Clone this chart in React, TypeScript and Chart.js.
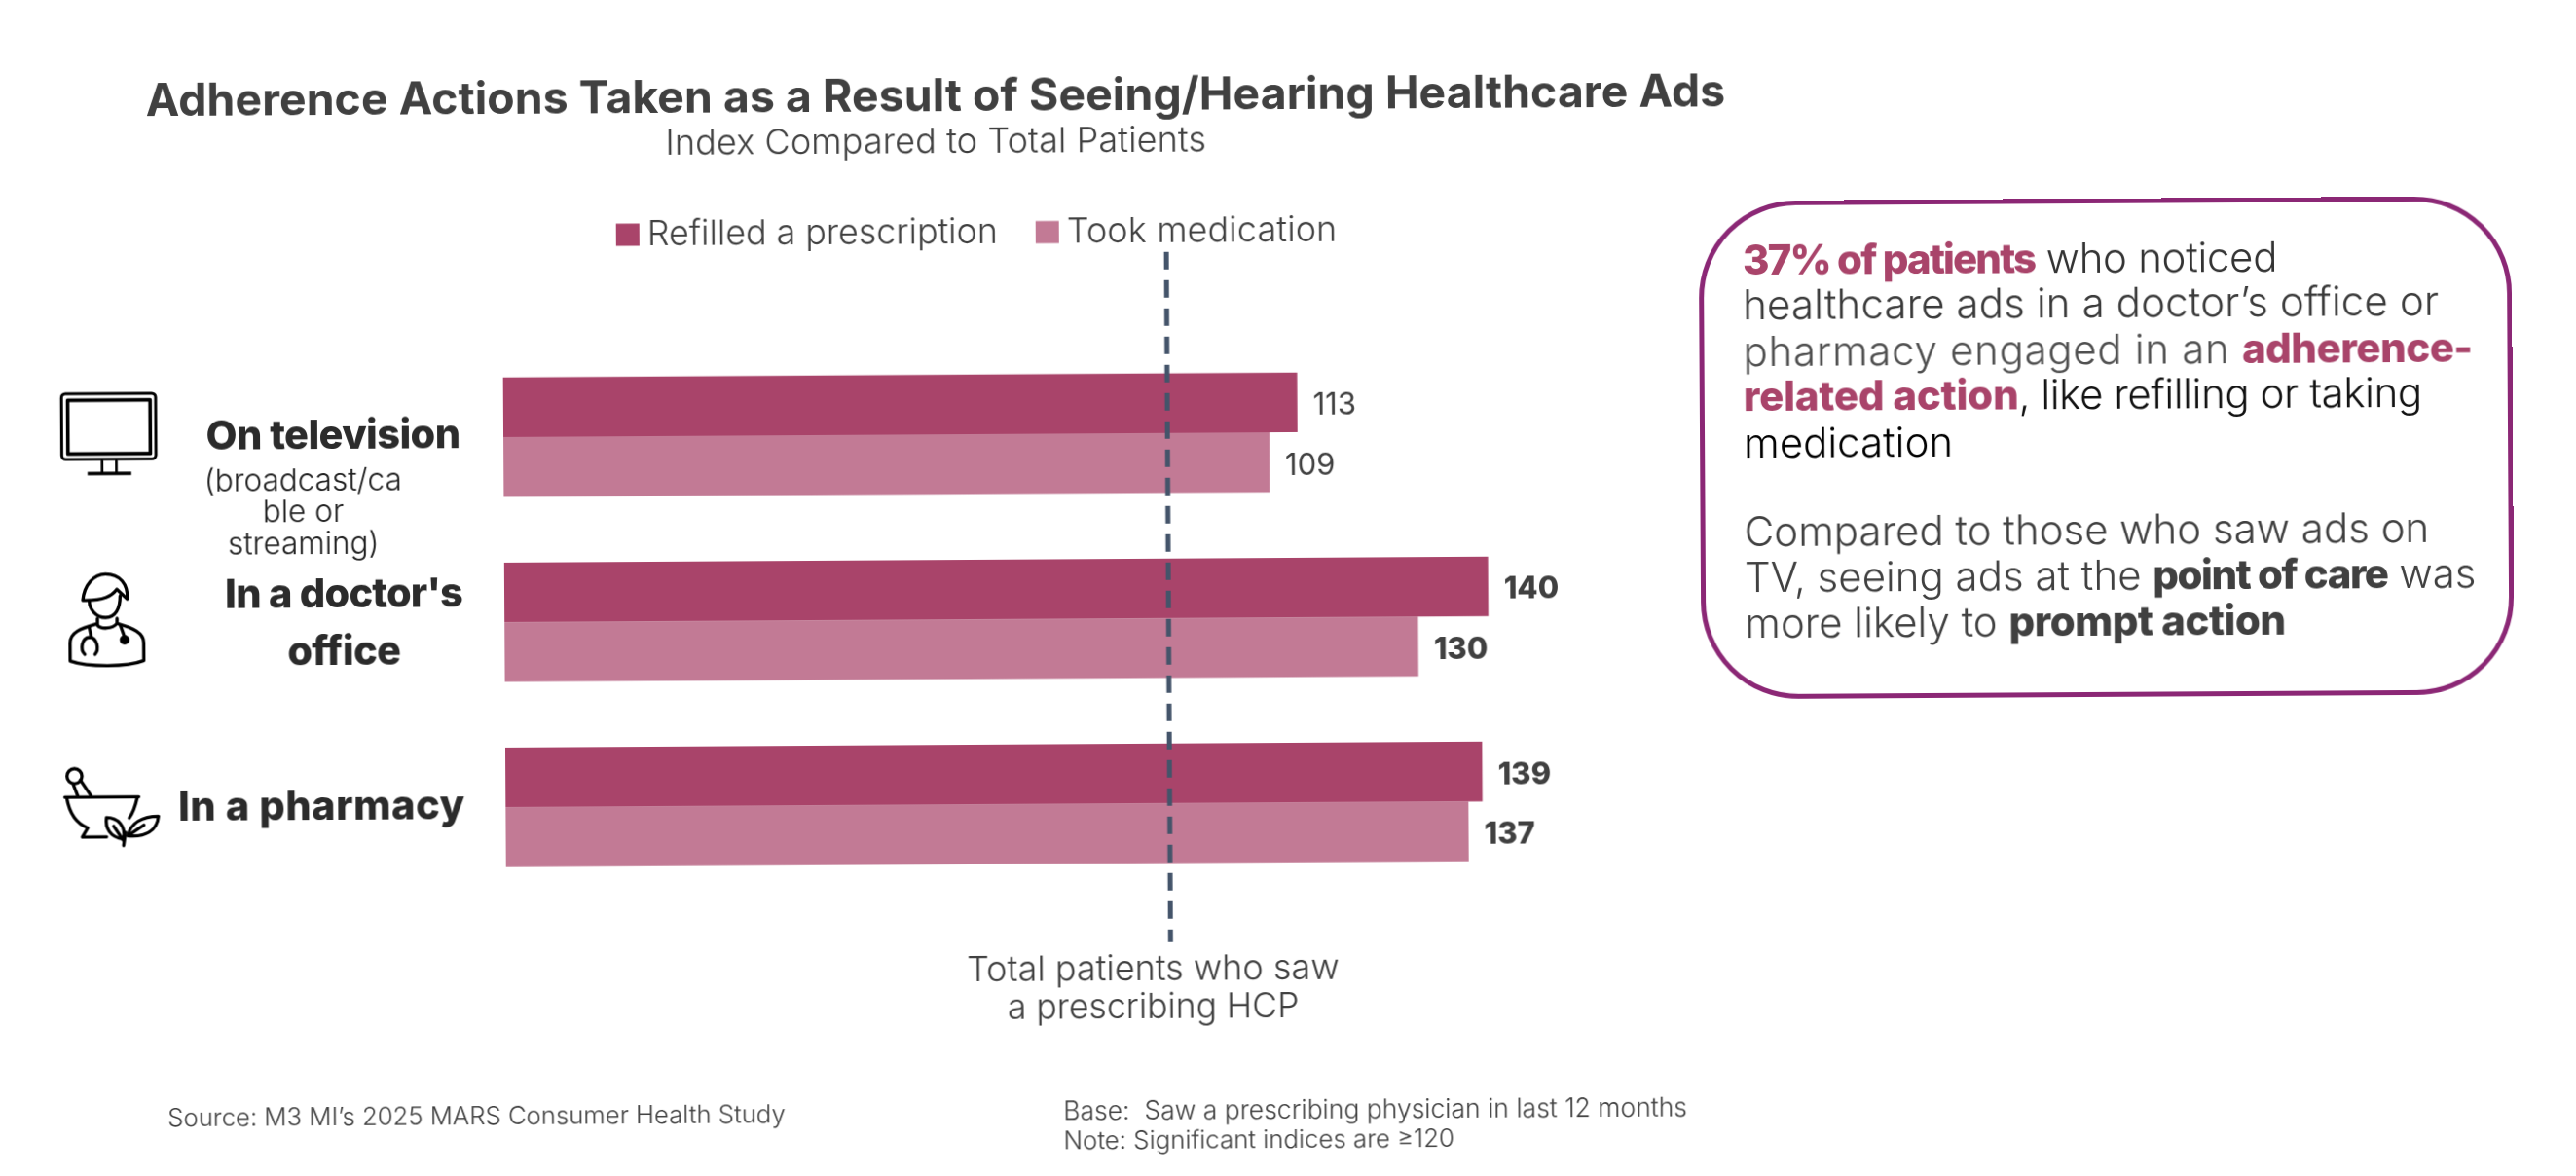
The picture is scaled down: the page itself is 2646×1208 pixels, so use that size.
import React, { useEffect, useRef } from "react";
import { Chart, registerables } from "chart.js";

Chart.register(...registerables);

const W = 2646;
const H = 1208;
const FONT = "Inter, 'Open Sans', sans-serif";

// ---- data ----
const categories = ["On television", "In a doctor's office", "In a pharmacy"];
const seriesNames = ["Refilled a prescription", "Took medication"];
const refilled = [113, 140, 139];
const tookMedication = [109, 130, 137];
const referenceLineValue = 94.5;

// ---- texts ----
const titleText = "Adherence Actions Taken as a Result of Seeing/Hearing Healthcare Ads";
const subtitleText = "Index Compared to Total Patients";
const referenceText = ["Total patients who saw", "a prescribing HCP"];
const sourceText = "Source: M3 MI\u2019s 2025 MARS Consumer Health Study";
const baseText = "Base:  Saw a prescribing physician in last 12 months";
const noteText = "Note: Significant indices are \u2265120";

// ---- styles ----
const DARK = "#A9446A";
const LIGHT = "#C27A95";
const INK = "#404040";
const catFont = `800 41.5px ${FONT}`;
const subFont = `300 31.5px ${FONT}`;
const categoryLabelLayout = [
  [
    { text: "On television", cx: 343, dy: -2, font: catFont, ls: "-0.6px", color: "#2b2b2b" },
    { text: "(broadcast/ca", cx: 312, dy: 44, font: subFont, ls: "0px", color: "#222" },
    { text: "ble or", cx: 312, dy: 76.5, font: subFont, ls: "0px", color: "#222" },
    { text: "streaming)", cx: 312, dy: 109, font: subFont, ls: "0px", color: "#222" },
  ],
  [
    { text: "In a doctor's", cx: 353, dy: -29, font: catFont, ls: "-0.8px", color: "#2b2b2b" },
    { text: "office", cx: 353, dy: 30, font: catFont, ls: "-0.6px", color: "#2b2b2b" },
  ],
  [{ text: "In a pharmacy", cx: 329, dy: -0.5, font: catFont, ls: "0.5px", color: "#2b2b2b" }],
];

const decorPlugin = {
  id: "decor",
  afterDatasetsDraw(chart: any) {
    const { ctx, scales } = chart;
    const x = scales.x;
    const y = scales.y;
    ctx.save();

    // reference line
    const rx = x.getPixelForValue(referenceLineValue);
    ctx.strokeStyle = "#44546A";
    ctx.lineWidth = 5;
    ctx.setLineDash([18, 11]);
    ctx.beginPath();
    ctx.moveTo(rx, 258);
    ctx.lineTo(rx, 967);
    ctx.stroke();
    ctx.setLineDash([]);

    // value labels
    ctx.textBaseline = "middle";
    ctx.textAlign = "left";
    chart.data.datasets.forEach((ds: any, di: number) => {
      const meta = chart.getDatasetMeta(di);
      meta.data.forEach((bar: any, i: number) => {
        ctx.font = i === 0 ? `400 31px ${FONT}` : `800 31px ${FONT}`;
        ctx.fillStyle = INK;
        ctx.fillText(String(ds.data[i]), bar.x + 16, bar.y + 3.5);
      });
    });

    // category labels
    ctx.textAlign = "center";
    categoryLabelLayout.forEach((lines, i) => {
      const cy = y.getPixelForValue(i);
      lines.forEach((l) => {
        ctx.font = l.font;
        ctx.letterSpacing = l.ls;
        ctx.fillStyle = l.color;
        ctx.fillText(l.text, l.cx, cy + l.dy);
      });
    });
    ctx.letterSpacing = "0px";

    // legend
    const swatchX = [635, 1066];
    ctx.textAlign = "left";
    ctx.font = `300 35.8px ${FONT}`;
    chart.data.datasets.forEach((ds: any, di: number) => {
      ctx.fillStyle = ds.backgroundColor;
      ctx.fillRect(swatchX[di], 225.5, 24, 23);
      ctx.fillStyle = INK;
      ctx.letterSpacing = di === 1 ? "0.2px" : "0px";
      ctx.fillText(ds.label, swatchX[di] + 32, 237);
    });
    ctx.letterSpacing = "0px";
    ctx.restore();
  },
};

function Txt(props: { x: number; y: number; align?: string; style?: any; children: any }) {
  const { x, y, align, style, children } = props;
  return (
    <div
      style={{
        position: "absolute",
        left: x,
        top: y,
        lineHeight: "0px",
        whiteSpace: "pre",
        fontFamily: FONT,
        transform: align === "center" ? "translateX(-50%)" : undefined,
        color: INK,
        ...style,
      }}
    >
      {children}
    </div>
  );
}

const B = (props: { c?: string; ls?: string; children: any }) => (
  <span style={{ fontWeight: 800, color: props.c, letterSpacing: props.ls || "-0.5px" }}>{props.children}</span>
);

function Icons() {
  const common = { fill: "none", stroke: "#000", strokeLinecap: "round" as const, strokeLinejoin: "round" as const };
  return (
    <>
      <svg style={{ position: "absolute", left: 40, top: 383, width: 140, height: 110 }} viewBox="0 0 420 330">
        <rect x="73" y="42" width="290" height="202" rx="12" {...common} strokeWidth="9" />
        <rect x="92" y="62" width="254" height="165" {...common} strokeWidth="11" />
        <path d="M197 250V285M241 250V285" {...common} strokeWidth="8" />
        <path d="M152 288H287" {...common} strokeWidth="11" strokeLinecap="butt" />
      </svg>
      <svg style={{ position: "absolute", left: 40, top: 563, width: 140, height: 120 }} viewBox="0 0 420 360">
        <g {...common} strokeWidth="10">
          <path d="M135 138C140 90 170 58 205 58C250 58 275 90 272 135L240 105C225 125 200 140 135 138Z" />
          <path d="M155 142C155 165 175 192 205 192C235 192 250 165 250 125" />
          <path d="M180 195V215C190 228 225 228 240 210V195" />
          <path d="M175 212C130 225 95 235 95 270V325C150 345 270 345 322 325V270C322 240 290 225 245 212" />
          <path d="M155 225L160 250M140 305C125 290 130 255 155 252C180 255 185 290 172 305M250 215L262 250" />
        </g>
        <circle cx="263" cy="261" r="15" fill="#000" />
      </svg>
      <svg style={{ position: "absolute", left: 38, top: 763, width: 140, height: 120 }} viewBox="0 0 420 360">
        <g {...common} strokeWidth="10">
          <path d="M82 145H310M88 148C95 190 115 225 152 240L135 268H210M305 148C300 170 295 190 280 210" />
          <circle cx="112" cy="80" r="23" />
          <path d="M108 105L122 142M130 92L162 140" />
          <path d="M262 275C220 270 205 240 210 208C245 208 270 235 262 275Z" />
          <path d="M232 235L262 280M262 295L268 255" />
          <path d="M275 265C285 225 320 205 370 205C365 250 330 270 275 265Z" />
          <path d="M280 262L325 232" />
        </g>
      </svg>
    </>
  );
}

export default function App() {
  const ref = useRef<HTMLCanvasElement | null>(null);

  useEffect(() => {
    if (!ref.current) return;
    const chart = new Chart(ref.current, {
      type: "bar",
      data: {
        labels: categories,
        datasets: [
          { label: seriesNames[0], data: refilled, backgroundColor: DARK, borderWidth: 0 },
          { label: seriesNames[1], data: tookMedication, backgroundColor: LIGHT, borderWidth: 0 },
        ],
      },
      options: {
        indexAxis: "y",
        animation: false,
        responsive: false,
        devicePixelRatio: 1,
        layout: { padding: { left: 518, right: W - 1673, top: 349, bottom: H - 919.5 } },
        datasets: { bar: { categoryPercentage: 0.645, barPercentage: 1 } },
        scales: {
          x: { min: 0, max: 160, display: false, grid: { display: false } },
          y: { display: false, grid: { display: false } },
        },
        plugins: { legend: { display: false }, title: { display: false }, tooltip: { enabled: false } },
      } as any,
      plugins: [decorPlugin],
    });
    return () => chart.destroy();
  }, []);

  const box = { fontSize: 42, fontWeight: 300 };

  return (
    <div style={{ position: "fixed", inset: 0, overflow: "hidden", background: "#fff" }}>
      <div
        style={{
          position: "absolute",
          left: 0,
          top: 0,
          width: W,
          height: H,
          transform: "rotate(-0.35deg)",
          transformOrigin: "1323px 604px",
        }}
      >
        <canvas ref={ref} width={W} height={H} style={{ position: "absolute", left: 0, top: 0, width: W, height: H }} />
        <Icons />

        <Txt x={964} y={95} align="center" style={{ fontSize: 46.4, fontWeight: 700, letterSpacing: "0.05px" }}>{titleText}</Txt>
        <Txt x={964} y={142} align="center" style={{ fontSize: 36, fontWeight: 300, letterSpacing: "0.1px" }}>{subtitleText}</Txt>

        <Txt x={1182} y={993} align="center" style={{ fontSize: 36, fontWeight: 300 }}>{referenceText[0]}</Txt>
        <Txt x={1182} y={1033} align="center" style={{ fontSize: 35.5, fontWeight: 300 }}>{referenceText[1]}</Txt>

        <div
          style={{
            position: "absolute",
            left: 1747,
            top: 209,
            width: 835,
            height: 512,
            boxSizing: "border-box",
            border: "5.5px solid #8B2775",
            borderRadius: 100,
          }}
        />
        <Txt x={1792} y={270} style={box}><B c={DARK} ls="-1.9px">37% of patients</B><span style={{ color: "#333", letterSpacing: "-0.3px" }}> who noticed</span></Txt>
        <Txt x={1792} y={316} style={box}><span style={{ color: "#3a3a3a", letterSpacing: "0.13px" }}>healthcare ads in a doctor’s office or</span></Txt>
        <Txt x={1792} y={364} style={box}><span style={{ color: "#505050", letterSpacing: "0.7px" }}>pharmacy engaged in an </span><B c={DARK}>adherence-</B></Txt>
        <Txt x={1792} y={410} style={box}><B c={DARK} ls="-0.2px">related action</B><span style={{ color: "#111", letterSpacing: "-0.4px" }}>, like refilling or taking</span></Txt>
        <Txt x={1792} y={458} style={{ ...box, color: "#000" }}>medication</Txt>
        <Txt x={1792} y={549} style={box}>Compared to those who saw ads on</Txt>
        <Txt x={1792} y={596} style={box}>TV, seeing ads at the <B ls="-1.5px">point of care</B> was</Txt>
        <Txt x={1792} y={643} style={box}>more likely to <B>prompt action</B></Txt>

        <Txt x={169} y={1141} style={{ fontSize: 25.7, fontWeight: 300 }}>{sourceText}</Txt>
        <Txt x={1089} y={1139} style={{ fontSize: 26.5, fontWeight: 300 }}>{baseText}</Txt>
        <Txt x={1089} y={1170} style={{ fontSize: 25.8, fontWeight: 300 }}>{noteText}</Txt>
      </div>
    </div>
  );
}
